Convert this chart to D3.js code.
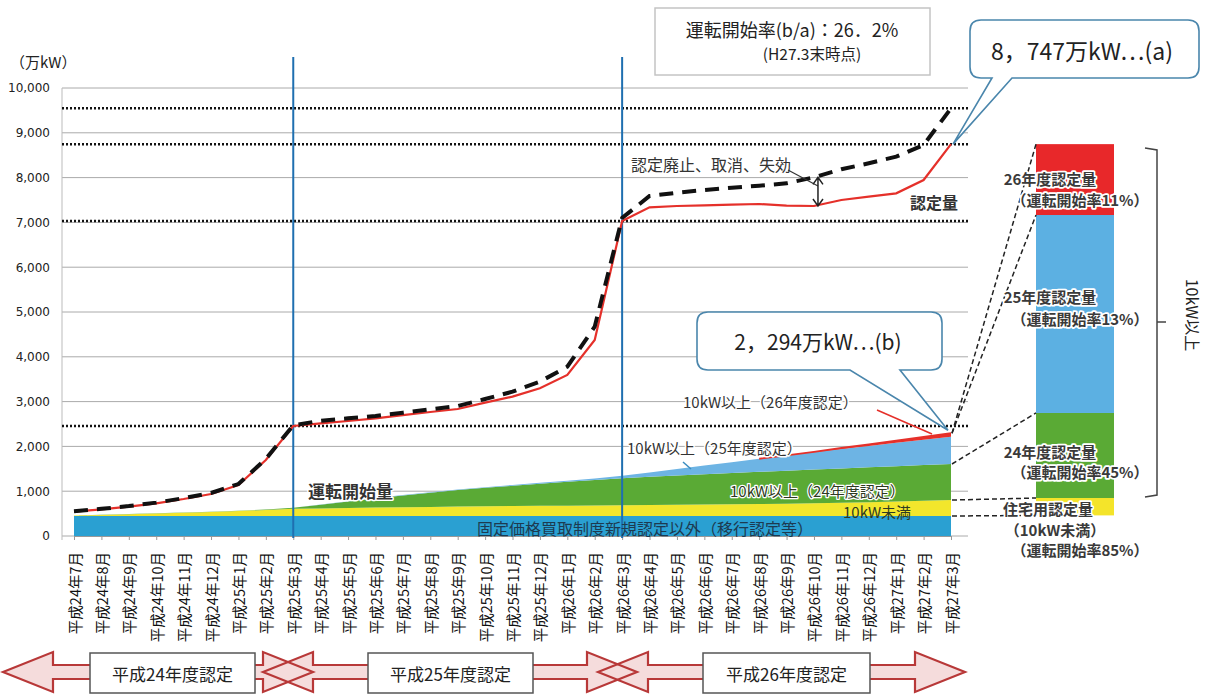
<!DOCTYPE html>
<html>
<head>
<meta charset="utf-8">
<script src="https://cdn.jsdelivr.net/npm/d3@7"></script>
<style>
body { margin: 0; background: #fff; }
svg { font-family: "Noto Sans CJK JP", "Noto Sans", sans-serif; }
</style>
</head>
<body>
<svg id="chart" width="1208" height="696"></svg>
<script>
// months on the x axis (H24.7 - H27.3)
var months = ["平成24年7月","平成24年8月","平成24年9月","平成24年10月","平成24年11月","平成24年12月",
  "平成25年1月","平成25年2月","平成25年3月","平成25年4月","平成25年5月","平成25年6月","平成25年7月",
  "平成25年8月","平成25年9月","平成25年10月","平成25年11月","平成25年12月","平成26年1月","平成26年2月",
  "平成26年3月","平成26年4月","平成26年5月","平成26年6月","平成26年7月","平成26年8月","平成26年9月",
  "平成26年10月","平成26年11月","平成26年12月","平成27年1月","平成27年2月","平成27年3月"];

// 認定量 (red line)
var certified = [542, 595, 655, 729, 826, 938, 1138, 1696, 2455, 2515, 2567, 2626, 2700, 2768, 2835,
  2976, 3110, 3296, 3594, 4375, 7030, 7336, 7366, 7381, 7396, 7411, 7373, 7366, 7500, 7574, 7649, 7946, 8747];
// 認定量 before 廃止/取消/失効 (black dashed line)
var certifiedGross = [552, 606, 668, 745, 845, 960, 1160, 1720, 2470, 2574, 2626, 2679, 2753, 2828, 2902,
  3058, 3222, 3445, 3780, 4672, 7100, 7589, 7663, 7723, 7775, 7820, 7872, 8006, 8185, 8319, 8467, 8728, 9547];

// 運転開始量 layers (stacked areas)
var opBase = [446, 446, 446, 446, 446, 446, 446, 446, 446, 446, 446, 446, 446, 446, 446, 446, 446,
  446, 446, 446, 446, 446, 446, 446, 446, 446, 446, 446, 446, 446, 446, 446, 446];
var opUnder10 = [10, 25, 40, 55, 72, 90, 110, 135, 160, 170, 180, 190, 197, 204, 210, 216, 222,
  228, 232, 236, 240, 246, 252, 258, 263, 268, 273, 283, 296, 310, 324, 340, 356];
var op24 = [2, 3, 4, 5, 6, 7, 8, 10, 24, 84, 144, 204, 262, 318, 371, 413, 452,
  491, 532, 568, 604, 628, 652, 674, 696, 718, 739, 753, 766, 777, 788, 797, 805];
var op25 = [0, 0, 0, 0, 0, 0, 0, 0, 0, 2, 4, 6, 8, 10, 12, 15, 18,
  22, 26, 32, 55, 98, 146, 194, 243, 292, 340, 388, 434, 478, 522, 566, 610];
var op26 = [0, 0, 0, 0, 0, 0, 0, 0, 0, 0, 0, 0, 0, 0, 0, 0, 0,
  0, 0, 0, 0, 0, 0, 0, 0, 0, 2, 10, 22, 35, 48, 62, 77];

var yTicks = [0, 1000, 2000, 3000, 4000, 5000, 6000, 7000, 8000, 9000, 10000];

// right bar: 認定量 by year
var barBottom = 460;
var barNames = ["住宅用認定量", "24年度認定量", "25年度認定量", "26年度認定量"];
var barValues = [388, 1898, 4419, 1582];
var barRates = ["（運転開始率85%）", "（運転開始率45%）", "（運転開始率13%）", "（運転開始率11%）"];

var fyNames = ["平成24年度認定", "平成25年度認定", "平成26年度認定"];

var svg = d3.select("#chart");
var x = d3.scalePoint().domain(months).range([74, 951]);
var y = d3.scaleLinear().domain([0, 10000]).range([536, 88]);

// grid
svg.append("g").selectAll("line").data(yTicks).enter().append("line")
  .attr("x1", 62).attr("x2", 968)
  .attr("y1", function(d) { return y(d); }).attr("y2", function(d) { return y(d); })
  .attr("stroke", "#aaa").attr("stroke-width", 1);
svg.append("line").attr("x1", 62).attr("x2", 62).attr("y1", y(10000)).attr("y2", 540)
  .attr("stroke", "#bbb");

var yAxis = svg.append("g").attr("transform", "translate(62,0)")
  .call(d3.axisLeft(y).tickValues(yTicks).tickSize(0).tickPadding(12).tickFormat(d3.format(",")));
yAxis.select(".domain").remove();
yAxis.selectAll("text").attr("font-family", "DejaVu Sans").attr("font-size", 12).attr("fill", "#222");

svg.append("text").attr("x", 10).attr("y", 68).attr("font-size", 15).attr("fill", "#222").text("（万kW）");

// stacked areas
var colors = { base: "#2aa0d2", under10: "#f2e62c", fy24: "#5aaa35", fy25: "#6db4e4", fy26: "#e8302a" };
var rows = months.map(function(m, i) {
  return { base: opBase[i], under10: opUnder10[i], fy24: op24[i], fy25: op25[i], fy26: op26[i] };
});
var series = d3.stack().keys(["base", "under10", "fy24", "fy25", "fy26"])(rows);
var area = d3.area()
  .x(function(d, i) { return x(months[i]); })
  .y0(function(d) { return y(d[0]); })
  .y1(function(d) { return y(d[1]); });
svg.append("g").selectAll("path").data(series).enter().append("path")
  .attr("d", area).attr("fill", function(s) { return colors[s.key]; });

// x axis ticks
var xAxis = svg.append("g").attr("transform", "translate(0,536)")
  .call(d3.axisBottom(x).tickSize(4).tickFormat(""));
xAxis.select(".domain").attr("stroke", "#999");
xAxis.selectAll("line").attr("stroke", "#999");

// reference dotted lines
var refLines = [certifiedGross[32], certified[32], certified[20], certified[8]];
svg.append("g").selectAll("line").data(refLines).enter().append("line")
  .attr("x1", 62).attr("x2", 968)
  .attr("y1", function(d) { return y(d); }).attr("y2", function(d) { return y(d); })
  .attr("stroke", "#111").attr("stroke-width", 2.5).attr("stroke-dasharray", "2,2");

// fiscal year boundaries
svg.append("g").selectAll("line").data([months[8], months[20]]).enter().append("line")
  .attr("x1", function(d) { return x(d); }).attr("x2", function(d) { return x(d); })
  .attr("y1", 57).attr("y2", 538)
  .attr("stroke", "#1f6fb0").attr("stroke-width", 2);

// lines
var line = d3.line().x(function(d, i) { return x(months[i]); }).y(function(d) { return y(d); });
svg.append("path").attr("d", line(certified)).attr("fill", "none")
  .attr("stroke", "#e5302a").attr("stroke-width", 2.2);
svg.append("path").attr("d", line(certifiedGross)).attr("fill", "none")
  .attr("stroke", "#111").attr("stroke-width", 4).attr("stroke-dasharray", "14,9");

// red top of 26年度 operating
var top26 = series[4].map(function(d) { return d[1]; });
var line26 = d3.line().defined(function(d, i) { return i >= 25; })
  .x(function(d, i) { return x(months[i]); }).y(function(d) { return y(d); });
svg.append("path").attr("d", line26(top26)).attr("fill", "none")
  .attr("stroke", "#e5302a").attr("stroke-width", 1.8);

// right bar
var barX = 1036, barW = 78;
var barColors = ["#f4e42a", "#5aaa35", "#5cb0e2", "#e8282a"];
var cum = [barBottom];
barValues.forEach(function(v, i) { cum.push(cum[i] + v); });
svg.append("g").selectAll("rect").data(barValues).enter().append("rect")
  .attr("x", barX).attr("width", barW)
  .attr("y", function(d, i) { return y(cum[i + 1]); })
  .attr("height", function(d, i) { return y(cum[i]) - y(cum[i + 1]); })
  .attr("fill", function(d, i) { return barColors[i]; });

// connectors from area end to bar
var xe = x(months[32]) + 1;
var conn = [
  [y(series[0][32][1]), y(cum[0])],
  [y(series[1][32][1]), y(cum[1])],
  [y(series[2][32][1]), y(cum[2])],
  [y(series[4][32][1]), y(cum[3])],
  [y(series[4][32][1]), y(cum[4])]
];
svg.append("g").selectAll("line").data(conn).enter().append("line")
  .attr("x1", xe).attr("x2", barX)
  .attr("y1", function(d) { return d[0]; }).attr("y2", function(d) { return d[1]; })
  .attr("stroke", "#222").attr("stroke-width", 1.5).attr("stroke-dasharray", "5,3");

// bar labels
function halo(sel, w) {
  return sel.attr("stroke", "#fff").attr("stroke-width", w).attr("paint-order", "stroke").attr("stroke-linejoin", "round");
}
var barLab = [
  [barNames[3], 1050, 178], [barRates[3], 1080, 199],
  [barNames[2], 1050, 296], [barRates[2], 1080, 318],
  [barNames[1], 1050, 451], [barRates[1], 1080, 471],
  [barNames[0], 1048, 508], ["（10kW未満）", 1055, 529], [barRates[0], 1080, 549]
];
halo(svg.append("g").selectAll("text").data(barLab).enter().append("text")
  .attr("x", function(d) { return d[1]; }).attr("y", function(d) { return d[2]; })
  .attr("text-anchor", "middle").attr("dominant-baseline", "central")
  .attr("font-size", 15).attr("font-weight", "bold").attr("fill", "#3a3a3a")
  .text(function(d) { return d[0]; }), 3.5);

// bracket
svg.append("path").attr("d", "M1145,148 L1157,150 L1157,495 L1145,497 M1157,322 L1166,322")
  .attr("fill", "none").attr("stroke", "#444").attr("stroke-width", 1.5);
svg.append("text").attr("transform", "translate(1193,315) rotate(90)")
  .attr("text-anchor", "middle").attr("dominant-baseline", "central")
  .attr("font-size", 16).attr("fill", "#222").text("10kW以上");

// x labels
svg.append("g").selectAll("text").data(months).enter().append("text")
  .attr("transform", function(d) { return "translate(" + x(d) + ",552) rotate(-90)"; })
  .attr("text-anchor", "end").attr("dominant-baseline", "central")
  .attr("font-size", 14.5).attr("fill", "#111").text(function(d) { return d; });

// area labels
function lab(t, px, py, size, opts) {
  var s = svg.append("text").attr("x", px).attr("y", py).attr("dominant-baseline", "central")
    .attr("font-size", size).attr("fill", "#333").text(t);
  if (opts && opts.bold) s.attr("font-weight", "bold");
  if (opts && opts.anchor) s.attr("text-anchor", opts.anchor);
  if (opts && opts.halo) halo(s, opts.halo);
  if (opts && opts.fill) s.attr("fill", opts.fill);
  return s;
}
svg.append("line").attr("x1", 877).attr("y1", 410).attr("x2", 932).attr("y2", 434)
  .attr("stroke", "#e5302a").attr("stroke-width", 1.5);
svg.append("line").attr("x1", 683).attr("y1", 462).attr("x2", 691).attr("y2", 469)
  .attr("stroke", "#3a8cc0").attr("stroke-width", 1.5);
lab("10kW以上（26年度認定）", 683, 401, 15, { halo: 3 });
lab("10kW以上（25年度認定）", 627, 447, 15, { halo: 3 });
lab("10kW以上（24年度認定）", 730, 490, 15, { halo: 2.5, fill: "#2e3a22" });
lab("10kW未満", 843, 511, 15, { fill: "#2e3a22" });
lab("固定価格買取制度新規認定以外（移行認定等）", 645, 528, 16, { anchor: "middle", fill: "#1d3a50" });
lab("運転開始量", 308, 490, 17, { bold: true, halo: 3 });
lab("認定量", 910, 202, 16, { bold: true });
lab("認定廃止、取消、失効", 631, 164, 16, {});

// 認定廃止 arrow
var ax = x(months[27]) + 4;
svg.append("line").attr("x1", 788).attr("y1", 170).attr("x2", ax).attr("y2", 186)
  .attr("stroke", "#333").attr("stroke-width", 1.2);
var ya = y(certifiedGross[27]), yb = y(certified[27]);
svg.append("path")
  .attr("d", "M" + ax + "," + ya + " L" + ax + "," + yb +
    " M" + (ax - 5) + "," + (ya + 7) + " L" + ax + "," + ya + " L" + (ax + 5) + "," + (ya + 7) +
    " M" + (ax - 5) + "," + (yb - 7) + " L" + ax + "," + yb + " L" + (ax + 5) + "," + (yb - 7))
  .attr("fill", "none").attr("stroke", "#222").attr("stroke-width", 1.5);

// top info box
svg.append("rect").attr("x", 655).attr("y", 8).attr("width", 275).attr("height", 67)
  .attr("fill", "#fff").attr("stroke", "#c4c4c4").attr("stroke-width", 1.5);
lab("運転開始率(b/a)：26．2%", 792, 29, 18, { anchor: "middle", fill: "#222" });
lab("(H27.3末時点)", 812, 53, 15.5, { anchor: "middle", fill: "#222" });

// callouts
function callout(x0, y0, x1, y1, r, t1, t2, tx, ty) {
  return "M" + (x0 + r) + "," + y0 + " L" + (x1 - r) + "," + y0 +
    " Q" + x1 + "," + y0 + " " + x1 + "," + (y0 + r) +
    " L" + x1 + "," + (y1 - r) + " Q" + x1 + "," + y1 + " " + (x1 - r) + "," + y1 +
    " L" + t2 + "," + y1 + " L" + tx + "," + ty + " L" + t1 + "," + y1 +
    " L" + (x0 + r) + "," + y1 + " Q" + x0 + "," + y1 + " " + x0 + "," + (y1 - r) +
    " L" + x0 + "," + (y0 + r) + " Q" + x0 + "," + y0 + " " + (x0 + r) + "," + y0 + " Z";
}
svg.append("path").attr("d", callout(970, 20, 1199, 78, 11, 992, 1012, x(months[32]) + 2, y(certified[32])))
  .attr("fill", "#fff").attr("stroke", "#4a86ac").attr("stroke-width", 1.6);
lab("8，747万kW…(a)", 1082, 50, 23, { anchor: "middle", fill: "#222" });
svg.append("path").attr("d", callout(697, 312, 942, 370, 11, 850, 900, x(months[32]) - 3, y(top26[32]) - 3))
  .attr("fill", "#fff").attr("stroke", "#4a86ac").attr("stroke-width", 1.6);
lab("2，294万kW…(b)", 818, 341, 21, { anchor: "middle", fill: "#222" });

// fiscal year arrows
var arrows = [[3, 313, 90, 255], [263, 637, 368, 533], [598, 965, 703, 870]];
function arrowPath(a) {
  var x0 = a[0], x1 = a[1], cy = 672, hl = 50, hh = 20, sh = 7;
  return "M" + x0 + "," + cy + " L" + (x0 + hl) + "," + (cy - hh) + " L" + (x0 + hl) + "," + (cy - sh) +
    " L" + (x1 - hl) + "," + (cy - sh) + " L" + (x1 - hl) + "," + (cy - hh) + " L" + x1 + "," + cy +
    " L" + (x1 - hl) + "," + (cy + hh) + " L" + (x1 - hl) + "," + (cy + sh) + " L" + (x0 + hl) + "," + (cy + sh) +
    " L" + (x0 + hl) + "," + (cy + hh) + " Z";
}
var ag = svg.append("g");
ag.selectAll("path.fill").data(arrows).enter().append("path").attr("class", "fill")
  .attr("d", arrowPath).attr("fill", "#f5dcdc");
ag.selectAll("path.edge").data(arrows).enter().append("path").attr("class", "edge")
  .attr("d", arrowPath).attr("fill", "none").attr("stroke", "#b83838").attr("stroke-width", 2.2);
ag.selectAll("rect").data(arrows).enter().append("rect")
  .attr("x", function(d) { return d[2]; }).attr("width", function(d) { return d[3] - d[2]; })
  .attr("y", 653).attr("height", 40)
  .attr("fill", "#fff").attr("stroke", "#555").attr("stroke-width", 1.5);
ag.selectAll("text").data(arrows).enter().append("text")
  .attr("x", function(d) { return (d[2] + d[3]) / 2; }).attr("y", 673)
  .attr("text-anchor", "middle").attr("dominant-baseline", "central")
  .attr("font-size", 17).attr("fill", "#222")
  .text(function(d, i) { return fyNames[i]; });
</script>
</body>
</html>
